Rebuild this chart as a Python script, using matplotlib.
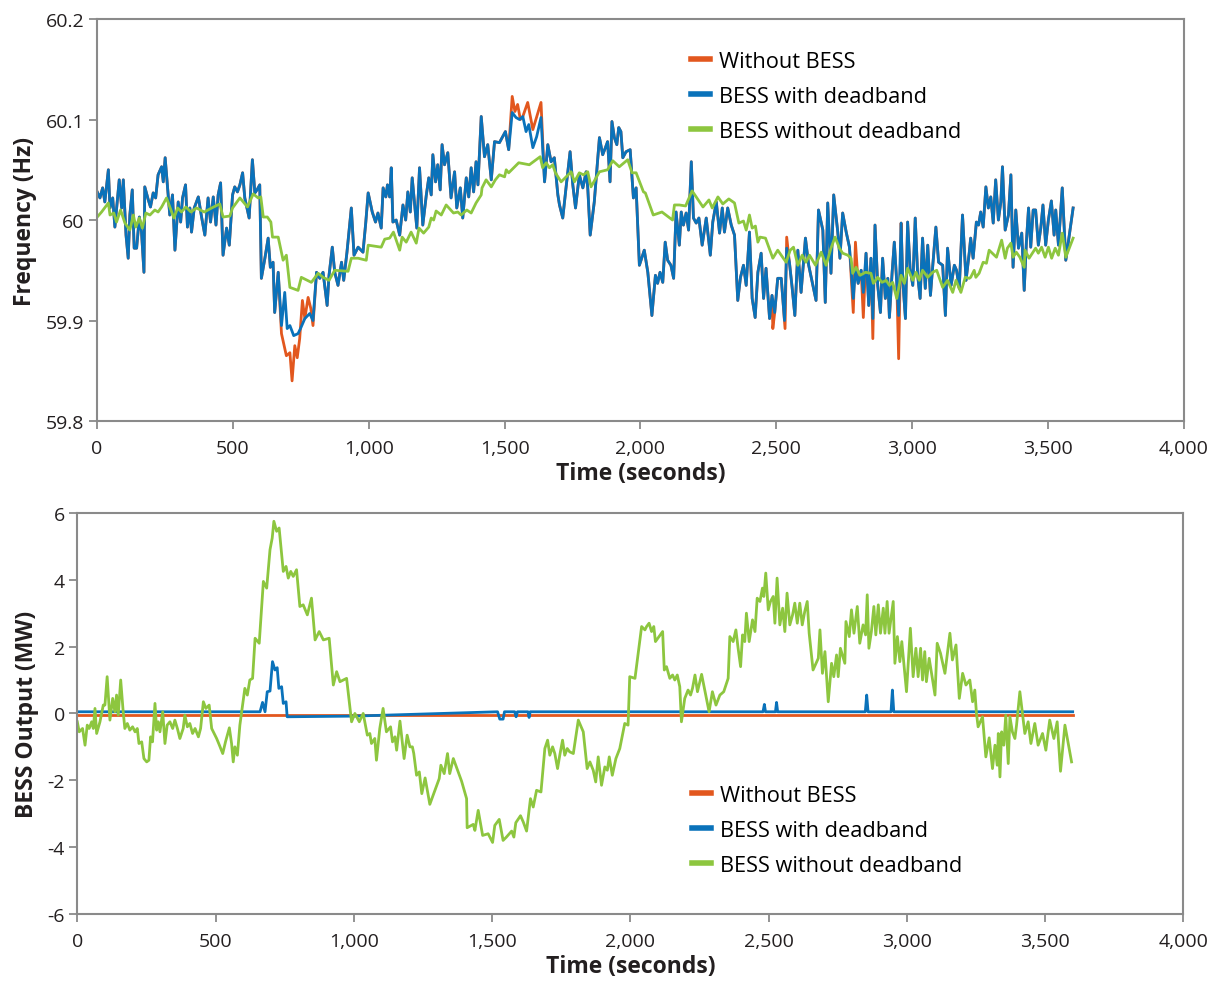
import numpy as np
import matplotlib
matplotlib.use("Agg")
import matplotlib.pyplot as plt
from matplotlib.ticker import FuncFormatter

plt.rcParams['font.family'] = ['Open Sans', 'DejaVu Sans']

# ---- top panel: grid frequency (Hz) ----
freq_deadband_t = [
    1, 11, 21, 29, 42, 48, 58, 66, 82, 91, 97, 107, 115, 121, 130, 137, 146, 156, 164, 173,
    176, 189, 197, 207, 216, 225, 238, 244, 251, 260, 268, 278, 287, 299, 308, 315, 326, 333, 342, 348,
    358, 373, 385, 397, 409, 418, 428, 438, 446, 455, 464, 477, 487, 499, 507, 517, 526, 536, 544, 560,
    572, 581, 589, 599, 605, 618, 630, 638, 648, 654, 667, 679, 691, 700, 710, 724, 740, 749, 765, 783,
    795, 808, 820, 832, 847, 854, 866, 875, 887, 900, 908, 920, 936, 946, 961, 979, 989, 998, 1013, 1025,
    1034, 1046, 1053, 1063, 1069, 1077,
    1083, 1089, 1101, 1114, 1126, 1136, 1144, 1153, 1160, 1169, 1177, 1187, 1199, 1212, 1221, 1230, 1236, 1246, 1254, 1263,
    1270, 1279, 1291, 1303, 1316, 1324, 1337, 1346, 1359, 1368, 1377, 1386, 1395, 1402, 1414, 1426, 1438, 1451, 1463, 1481,
    1503, 1515, 1528, 1542, 1555, 1567, 1579, 1589, 1604, 1618, 1634, 1647, 1659, 1671, 1683, 1696, 1702, 1714, 1726, 1741,
    1751, 1761, 1775, 1788, 1800, 1806, 1815, 1830, 1849, 1861, 1871, 1879, 1888, 1895, 1904, 1913, 1920, 1928, 1935, 1947,
    1962, 1974, 1984, 1996, 2014, 2027, 2042, 2055, 2063, 2072, 2082, 2091, 2100, 2112, 2122, 2131, 2143,
    2150, 2158, 2168, 2177, 2187, 2195, 2205, 2215, 2227, 2242, 2257, 2266, 2279, 2291, 2301, 2309, 2321, 2334, 2346, 2358,
    2368, 2379, 2389, 2401, 2411, 2422, 2432, 2444, 2453, 2462, 2475, 2484, 2494, 2505, 2518, 2530, 2538, 2548, 2558, 2568,
    2579, 2591, 2607, 2619, 2632, 2646, 2655, 2671, 2680, 2689, 2701, 2711, 2726, 2734, 2744, 2757, 2769, 2783, 2791, 2801,
    2812, 2820, 2830, 2840, 2848, 2855, 2863, 2873, 2883, 2891, 2901, 2910, 2916, 2926, 2934, 2943, 2950, 2959, 2965, 2975,
    2983, 2992, 3002, 3011, 3020, 3029, 3038, 3048, 3057, 3067, 3075, 3087, 3097, 3112, 3122, 3130, 3143, 3155, 3163, 3173,
    3185, 3198, 3210,
    3215, 3224, 3236, 3244, 3252, 3261, 3271, 3280, 3289, 3298, 3307, 3317, 3326, 3332, 3342, 3354, 3363, 3371, 3381, 3391,
    3403, 3412, 3420, 3428, 3436, 3445, 3454, 3464, 3473, 3481, 3491, 3501, 3512, 3522, 3528, 3538, 3552, 3565, 3579, 3592,
]
freq_deadband = [
    60.028, 60.022, 60.032, 60.018, 60.050, 60.012, 60.022, 59.993, 60.040, 60.012, 60.040, 59.985, 59.962, 60.005, 60.030, 59.972, 59.972, 60.003, 59.988, 59.948,
    60.033, 60.020, 60.013, 60.027, 60.022, 60.045, 60.053, 60.038, 60.062, 60.032, 60.005, 60.025, 59.970, 60.018, 59.998, 60.022, 60.035, 59.993, 60.012, 59.988,
    60.012, 60.023, 60.003, 59.985, 60.022, 59.998, 60.023, 59.995, 60.025, 60.037, 59.965, 59.992, 59.975, 60.025, 60.033, 60.028, 60.035, 60.047, 60.022, 60.002,
    60.060, 60.027, 60.030, 60.035, 59.942, 59.962, 59.982, 59.953, 59.958, 59.908, 59.948, 59.895, 59.928, 59.892, 59.895, 59.885, 59.887, 59.892, 59.902, 59.907,
    59.900, 59.948, 59.942, 59.948, 59.915, 59.945, 59.973, 59.948, 59.935, 59.958, 59.940, 59.968, 60.012, 59.965, 59.973, 59.968, 59.997, 60.027, 60.008, 59.998,
    60.007, 59.992, 60.032, 60.023, 60.035, 60.023,
    60.052, 59.998, 60.000, 59.985, 60.015, 60.000, 60.028, 60.008, 60.042, 60.015, 59.992, 60.052, 59.995, 60.025, 60.042, 60.025, 60.065, 60.038, 60.055, 60.030,
    60.075, 60.055, 60.067, 60.022, 60.048, 60.012, 60.032, 60.002, 60.042, 60.023, 60.052, 60.028, 60.058, 60.035, 60.103, 60.063, 60.075, 60.040, 60.078, 60.077,
    60.088, 60.070, 60.107, 60.102, 60.100, 60.103, 60.088, 60.095, 60.072, 60.083, 60.102, 60.038, 60.075, 60.058, 60.062, 60.025, 60.015, 60.002, 60.032, 60.068,
    60.035, 60.012, 60.045, 60.032, 60.048, 60.032, 59.985, 60.018, 60.082, 60.065, 60.072, 60.078, 60.038, 60.098, 60.082, 60.075, 60.092, 60.088, 60.062, 60.068,
    60.070, 60.022, 60.032, 59.955, 59.970, 59.948, 59.905, 59.945, 59.937, 59.948, 59.938, 59.978, 59.960, 59.955, 59.942, 60.008, 59.975,
    60.008, 59.995, 60.007, 59.990, 60.058, 60.002, 59.997, 60.002, 59.975, 60.002, 59.965, 59.998, 60.018, 59.987, 60.012, 59.988, 60.012, 59.995, 59.985, 59.920,
    59.943, 59.955, 59.935, 59.988, 59.922, 59.903, 59.948, 59.967, 59.922, 59.952, 59.902, 59.925, 59.908, 59.942, 59.942, 59.900, 59.972, 59.958, 59.933, 59.905,
    59.970, 59.928, 59.982, 59.955, 59.938, 59.920, 60.010, 59.990, 59.918, 60.017, 59.947, 60.025, 59.988, 59.962, 60.007, 59.988, 59.973, 59.922, 59.950, 59.937,
    59.950, 59.928, 59.967, 59.915, 59.962, 59.902, 59.995, 59.935, 59.908, 59.962, 59.922, 59.942, 59.903, 59.948, 59.978, 59.938, 59.905, 59.997, 59.940, 59.902,
    59.998, 59.952, 59.935, 60.002, 59.945, 59.922, 59.982, 59.932, 59.975, 59.925, 59.953, 59.993, 59.958, 59.955, 59.905, 59.972, 59.935, 59.955, 59.950, 59.932,
    60.005, 59.940, 59.968,
    59.982, 59.962, 59.998, 59.995, 60.008, 59.993, 60.033, 60.012, 60.023, 59.997, 60.040, 60.000, 60.018, 60.053, 59.990, 60.005, 60.045, 59.953, 60.010, 59.972,
    59.987, 59.930, 59.978, 60.012, 59.973, 60.010, 60.010, 59.975, 59.992, 60.015, 59.975, 60.000, 60.019, 59.985, 60.010, 59.975, 60.032, 59.960, 59.987, 60.012,
]

# where the "without BESS" trace differs from the deadband trace
freq_nobess_seg_t = [
    [679, 697, 710, 718, 728, 737, 746, 756, 765, 777, 787, 795],
    [1515, 1528, 1538, 1548, 1558, 1567, 1585, 1604, 1634, 1647],
    [2484, 2487, 2494, 2505, 2518, 2532, 2538],
    [2783, 2791, 2801, 2812, 2820, 2830, 2840, 2848, 2855, 2863],
    [2943, 2950, 2959],
]
freq_nobess_seg_v = [
    [59.887, 59.865, 59.868, 59.840, 59.875, 59.863, 59.882, 59.920, 59.902, 59.923, 59.912, 59.895],
    [60.070, 60.123, 60.108, 60.115, 60.100, 60.103, 60.117, 60.090, 60.117, 60.038],
    [59.925, 59.892, 59.908, 59.942, 59.942, 59.892, 59.983],
    [59.908, 59.978, 59.937, 59.950, 59.903, 59.967, 59.915, 59.962, 59.882, 59.995],
    [59.938, 59.862, 59.997],
]

freq_nodb_t = [
    1, 17, 42, 48, 62, 72, 87, 103, 121, 134, 143, 156, 167, 180, 195, 213, 225, 238, 256, 272,
    283, 297, 311, 327, 346, 366, 395, 422, 452, 464, 489, 499, 526, 554, 575, 593, 603, 612, 627, 640,
    646, 667, 685, 697, 710, 740, 752, 789, 814, 832, 854, 875, 924, 936, 961, 991, 998, 1046, 1059, 1077,
    1091, 1114, 1123, 1138, 1156, 1175, 1185, 1202, 1221, 1230, 1239, 1248, 1267, 1285, 1312, 1328, 1340, 1361, 1377, 1395,
    1414, 1417, 1432, 1451, 1466, 1481, 1500, 1506, 1515, 1552, 1591, 1631, 1640, 1653, 1665, 1677, 1687, 1708, 1745, 1757,
    1775, 1790, 1806, 1818, 1849, 1879, 1898, 1922, 1953, 1969, 1984, 2011, 2018, 2047, 2079, 2118, 2125, 2143,
    2166, 2190, 2205, 2230, 2252, 2264, 2285, 2303, 2325, 2346, 2362, 2379, 2389, 2401, 2411, 2423, 2432, 2440, 2460, 2487,
    2505, 2518, 2536, 2551, 2563, 2579, 2595, 2609, 2622, 2644, 2665, 2683, 2701, 2716, 2732, 2744, 2763, 2775, 2781, 2793,
    2808, 2828, 2848, 2857, 2873, 2889, 2904, 2916, 2928, 2943, 2959, 2971, 2983, 3002, 3014, 3026, 3038, 3057, 3075, 3090,
    3112, 3130, 3149, 3161, 3179, 3195, 3210,
    3215, 3228, 3234, 3246, 3261, 3273, 3283, 3310, 3329, 3342, 3350, 3363, 3371, 3383, 3396, 3412, 3415, 3430, 3442, 3454,
    3464, 3476, 3489, 3501, 3513, 3526, 3538, 3552, 3565, 3592,
]
freq_nodb = [
    60.003, 60.008, 60.017, 60.005, 60.007, 59.998, 60.010, 59.997, 59.990, 60.005, 59.993, 60.002, 59.992, 60.007, 60.005, 60.010, 60.008, 60.013, 60.022, 60.010,
    60.002, 60.012, 60.008, 60.013, 60.008, 60.012, 60.008, 60.012, 60.016, 60.003, 60.004, 60.012, 60.022, 60.013, 60.026, 60.022, 60.023, 60.003, 60.003, 59.998,
    59.983, 59.983, 59.960, 59.965, 59.933, 59.930, 59.943, 59.938, 59.947, 59.943, 59.940, 59.950, 59.949, 59.962, 59.962, 59.960, 59.975, 59.973, 59.981, 59.982,
    59.988, 59.970, 59.983, 59.978, 59.988, 59.977, 59.992, 59.987, 59.993, 60.002, 60.000, 60.009, 60.005, 60.015, 60.007, 60.008, 60.005, 60.010, 60.007, 60.017,
    60.025, 60.032, 60.040, 60.033, 60.040, 60.045, 60.043, 60.050, 60.047, 60.057, 60.055, 60.063, 60.052, 60.057, 60.052, 60.055, 60.047, 60.038, 60.048, 60.038,
    60.047, 60.045, 60.048, 60.033, 60.048, 60.050, 60.059, 60.053, 60.060, 60.047, 60.047, 60.028, 60.027, 60.005, 60.008, 60.000, 60.015, 60.015,
    60.014, 60.029, 60.023, 60.013, 60.020, 60.012, 60.023, 60.016, 60.021, 60.017, 59.997, 59.999, 59.990, 60.005, 59.992, 59.994, 59.978, 59.983, 59.982, 59.962,
    59.970, 59.965, 59.958, 59.970, 59.973, 59.955, 59.965, 59.958, 59.965, 59.955, 59.968, 59.955, 59.972, 59.983, 59.972, 59.967, 59.965, 59.962, 59.947, 59.953,
    59.945, 59.948, 59.947, 59.937, 59.943, 59.938, 59.940, 59.935, 59.938, 59.922, 59.945, 59.937, 59.952, 59.940, 59.948, 59.940, 59.950, 59.943, 59.948, 59.950,
    59.933, 59.940, 59.928, 59.940, 59.928, 59.943, 59.942,
    59.943, 59.950, 59.943, 59.947, 59.958, 59.957, 59.970, 59.963, 59.980, 59.962, 59.972, 59.977, 59.963, 59.968, 59.963, 59.953, 59.970, 59.962, 59.967, 59.972,
    59.967, 59.973, 59.963, 59.973, 59.962, 59.972, 59.965, 59.987, 59.963, 59.982,
]

# ---- bottom panel: BESS output (MW) ----
mw_nobess_t = [0, 3600]
mw_nobess = [-0.04, -0.04]

mw_deadband_t = [
    0, 661, 670, 679, 687, 697, 706, 715, 723, 729, 739, 745, 755, 759, 1000, 1520, 1528, 1540, 1545, 1582,
    1587, 1592, 1630, 1634, 1638, 2480, 2485, 2489, 2525, 2529, 2533, 2850, 2855, 2860, 2943, 2948, 2953, 3600,
]
mw_deadband = [
    0.05, 0.05, 0.33, 0.05, 0.65, 0.67, 1.55, 1.30, 1.37, 0.75, 0.80, 0.30, 0.35, -0.10, -0.08, 0.05, -0.17, -0.17, 0.05, 0.05,
    -0.10, 0.05, 0.05, -0.12, 0.05, 0.05, 0.27, 0.05, 0.05, 0.33, 0.05, 0.05, 0.55, 0.05, 0.05, 0.70, 0.05, 0.05,
]

mw_nodb_t = [
    0, 7, 19, 28, 36, 43, 52, 58, 64, 70, 82, 94, 100, 108, 118, 128, 136, 142, 148, 157,
    166, 172, 181, 190, 200, 209, 217, 223, 233, 241, 251, 259, 265, 272, 281, 287, 293, 299, 309, 317,
    325, 335, 345, 353, 362, 371, 383, 389, 398, 407, 417, 426, 438, 446, 456, 465, 477, 486, 504, 514,
    526, 536, 550, 558, 564, 570, 579, 588, 598, 606, 615, 624, 634, 643, 658, 673, 685, 697, 705, 711,
    721, 730, 745, 755, 763, 772, 781, 793, 805, 817, 832, 847, 860, 875, 890, 911, 926, 938, 950, 974,
    992, 1004, 1020, 1034, 1049, 1058,
    1064, 1076, 1082, 1094, 1106, 1118, 1133, 1140, 1149, 1155, 1167, 1182, 1193, 1203, 1212, 1217, 1227, 1237, 1246, 1258,
    1275, 1309, 1315, 1327, 1339, 1347, 1360, 1390, 1408, 1410, 1432, 1438, 1450, 1466, 1486, 1502, 1510, 1526, 1540, 1552,
    1571, 1579, 1586, 1603, 1613, 1625, 1639, 1649, 1661, 1677, 1691, 1701, 1709, 1719, 1727, 1737, 1745, 1755, 1763, 1772,
    1781, 1794, 1812, 1830, 1844, 1854, 1866, 1875, 1884, 1896, 1908, 1917, 1924, 1935, 1948, 1962, 1980, 1992, 1998,
    2017, 2041, 2053, 2059, 2068, 2077, 2085, 2091, 2117, 2123, 2131, 2143, 2153, 2161, 2170, 2179, 2185, 2197, 2209, 2218,
    2225, 2234, 2243, 2258, 2273, 2285, 2297, 2310, 2324, 2338, 2354, 2360, 2372, 2382, 2390, 2399, 2406, 2414, 2420, 2430,
    2442, 2451, 2459, 2469, 2478, 2483, 2490, 2499, 2507, 2517, 2523, 2531, 2541, 2551, 2559, 2567, 2577, 2587, 2595, 2604,
    2613, 2622, 2631, 2640, 2647, 2661, 2680, 2686, 2695, 2704, 2716, 2728, 2736, 2746, 2752, 2760, 2776, 2780, 2792, 2800,
    2809, 2821, 2830, 2842, 2851, 2857, 2863, 2872, 2881, 2888, 2897, 2905, 2915, 2921, 2929, 2936, 2951, 2957, 2966, 2975,
    2982, 2991, 2999, 3013, 3023, 3033, 3041, 3050, 3057, 3065, 3071, 3081,
    3102, 3110, 3122, 3138, 3156, 3165, 3178, 3190, 3202, 3214, 3228, 3238, 3246, 3252, 3258, 3274, 3286, 3298, 3310, 3319,
    3327, 3331, 3337, 3343, 3351, 3358, 3367, 3373, 3382, 3391, 3397, 3409, 3419, 3427, 3439, 3449, 3463, 3475, 3491, 3503,
    3517, 3532, 3544, 3556, 3572, 3596,
]
mw_nodb = [
    -0.25, -0.55, -0.45, -0.95, -0.35, -0.45, -0.25, -0.45, 0.15, -0.60, -0.25, 0.25, 0.25, 1.10, -0.20, 0.45, 0.05, 0.55, -0.05, 1.00,
    0.05, -0.45, -0.30, -0.50, -0.40, -0.55, -0.45, -0.90, -0.85, -1.35, -1.45, -1.40, -0.70, -0.85, 0.30, -0.50, -0.25, -0.55, 0.05, -0.90,
    -0.35, -0.25, -0.45, -0.20, -0.45, -0.75, -0.45, -0.05, -0.40, -0.30, -0.60, -0.45, -0.70, -0.45, 0.35, 0.15, 0.25, -0.45, -0.75, -0.95,
    -1.20, -0.85, -0.43, -0.90, -1.45, -1.00, -1.25, -0.35, 0.25, 0.75, 0.55, 1.00, 1.05, 2.25, 2.10, 3.95, 3.75, 4.90, 5.25, 5.75,
    5.45, 5.55, 4.25, 4.40, 4.05, 4.25, 4.10, 4.30, 3.20, 3.25, 2.95, 3.45, 2.20, 2.45, 2.20, 2.25, 0.85, 1.25, 0.95, 1.05,
    -0.25, 0.00, -0.25, 0.00, -0.65, -0.60,
    -0.90, -0.75, -1.40, -0.45, 0.15, -0.55, -0.40, -0.85, -0.70, -1.10, -0.23, -1.35, -0.65, -1.00, -1.00, -1.20, -1.85, -1.75, -2.40, -1.93,
    -2.72, -1.95, -1.55, -1.80, -1.20, -1.80, -1.35, -2.03, -2.55, -3.42, -3.32, -3.50, -2.90, -3.65, -3.60, -3.86, -3.35, -3.17, -3.80, -3.70,
    -3.52, -3.70, -3.27, -3.06, -3.25, -3.52, -2.55, -2.80, -2.30, -2.35, -1.05, -0.80, -1.25, -1.00, -1.20, -1.65, -1.25, -0.80, -1.25, -1.05,
    -1.15, -1.20, -0.20, -0.55, -1.65, -1.45, -1.70, -2.05, -1.30, -2.15, -1.60, -1.70, -1.30, -1.85, -1.35, -1.05, -0.30, -0.35, 1.10,
    1.05, 2.60, 2.50, 2.60, 2.70, 2.45, 2.60, 2.15, 2.45, 1.30, 1.40, 1.05, 1.15, 1.00, 1.15, 0.80, -0.25, 0.45, 0.70, 0.55,
    0.75, 1.15, 0.65, 1.17, 0.55, 0.05, 0.65, 0.25, 0.55, 0.65, 1.05, 2.30, 2.15, 2.50, 1.95, 1.40, 2.35, 2.15, 3.00, 2.15,
    2.80, 2.45, 3.45, 3.35, 3.75, 3.50, 4.20, 3.10, 3.35, 3.50, 2.70, 4.05, 2.65, 3.15, 2.45, 3.60, 2.65, 2.95, 3.30, 2.70,
    3.30, 2.65, 3.05, 3.35, 2.40, 1.30, 1.65, 2.50, 1.20, 1.85, 0.35, 1.50, 1.10, 1.75, 1.10, 1.95, 1.50, 2.75, 2.30, 3.10,
    2.40, 3.20, 2.10, 2.65, 2.35, 3.55, 1.95, 2.45, 3.20, 2.35, 3.25, 2.40, 3.15, 2.40, 3.35, 2.40, 3.35, 1.50, 2.30, 1.55,
    2.15, 1.35, 0.65, 2.55, 1.10, 1.95, 1.10, 1.95, 1.00, 1.85, 0.95, 1.65,
    0.55, 2.10, 1.80, 1.20, 2.40, 1.60, 2.05, 0.45, 1.20, 0.85, 1.00, 0.35, 0.70, 0.00, -0.40, -0.10, -1.30, -0.73, -1.65, -0.95,
    -1.55, -0.60, -1.90, -0.55, -0.95, -0.05, -1.50, -0.10, -0.55, -0.75, -0.35, 0.65, -0.05, -0.60, -0.25, -0.90, -0.30, -0.95, -0.60, -1.10,
    -0.20, -0.75, -0.25, -1.73, -0.35, -1.45,
]

legend_labels = ["Without BESS", "BESS with deadband", "BESS without deadband"]
colors = ["#E2571E", "#0A72BA", "#8DC63F"]
time_ticks = [0, 500, 1000, 1500, 2000, 2500, 3000, 3500, 4000]
freq_ticks = [59.8, 59.9, 60.0, 60.1, 60.2]
freq_tick_labels = ["59.8", "59.9", "60", "60.1", "60.2"]
mw_ticks = [-6, -4, -2, 0, 2, 4, 6]
mw_tick_labels = ["-6", "-4", "-2", "0", "2", "4", "6"]


def splice(base_t, base_v, seg_ts, seg_vs):
    # replace the base trace inside each segment's time span with the segment's own points
    t = list(base_t)
    v = list(base_v)
    for st, sv in zip(seg_ts, seg_vs):
        keep = [i for i in range(len(t)) if t[i] < st[0] or t[i] > st[-1]]
        pts = [(t[i], v[i]) for i in keep] + list(zip(st, sv))
        pts.sort()
        t = [p[0] for p in pts]
        v = [p[1] for p in pts]
    return t, v


freq_nobess_t, freq_nobess = splice(freq_deadband_t, freq_deadband, freq_nobess_seg_t, freq_nobess_seg_v)

text_color = "#231F20"
spine_color = "#8A8A8A"
lw = 2.0
label_font = dict(fontsize=16.5, fontweight="bold", color=text_color)

fig = plt.figure(figsize=(12.21, 9.87), dpi=100)
ax1 = fig.add_axes([0.0794, 0.5724, 0.8903, 0.4073])
ax2 = fig.add_axes([0.0633, 0.0730, 0.9058, 0.4063])


def style(ax):
    for s in ax.spines.values():
        s.set_color(spine_color)
        s.set_linewidth(1.5)
    ax.tick_params(axis="both", direction="out", length=6, width=1.3, color=spine_color,
                   labelsize=14, labelcolor=text_color)
    ax.tick_params(axis="x", pad=7)
    ax.tick_params(axis="y", pad=3)
    ax.set_xlim(0, 4000)
    ax.set_xticks(time_ticks)
    ax.xaxis.set_major_formatter(FuncFormatter(lambda x, p: f"{int(x):,}"))
    ax.set_xlabel("Time (seconds)", labelpad=3, **label_font)


# top panel
ax1.plot(freq_nobess_t, freq_nobess, color=colors[0], lw=lw, label=legend_labels[0])
ax1.plot(freq_deadband_t, freq_deadband, color=colors[1], lw=lw, label=legend_labels[1])
ax1.plot(freq_nodb_t, freq_nodb, color=colors[2], lw=lw, label=legend_labels[2])
style(ax1)
ax1.set_ylim(59.8, 60.2)
ax1.set_yticks(freq_ticks)
ax1.set_yticklabels(freq_tick_labels)
ax1.set_ylabel("Frequency (Hz)", labelpad=6, **label_font)
ax1.legend(loc="upper left", bbox_to_anchor=(0.538, 0.943), frameon=False, fontsize=15.7,
           handlelength=0.9, handletextpad=0.4, labelspacing=0.64, borderaxespad=0)

# bottom panel
ax2.plot(mw_nobess_t, mw_nobess, color=colors[0], lw=lw, label=legend_labels[0])
ax2.plot(mw_deadband_t, mw_deadband, color=colors[1], lw=lw, label=legend_labels[1])
ax2.plot(mw_nodb_t, mw_nodb, color=colors[2], lw=lw, label=legend_labels[2])
style(ax2)
ax2.set_ylim(-6, 6)
ax2.set_yticks(mw_ticks)
ax2.set_yticklabels(mw_tick_labels)
ax2.set_ylabel("BESS Output (MW)", labelpad=6, **label_font)
ax2.legend(loc="upper left", bbox_to_anchor=(0.5475, 0.344), frameon=False, fontsize=15.7,
           handlelength=0.9, handletextpad=0.4, labelspacing=0.64, borderaxespad=0)

for ax in (ax1, ax2):
    for line in ax.get_legend().get_lines():
        line.set_linewidth(4)

fig.savefig("out.png", dpi=100)
